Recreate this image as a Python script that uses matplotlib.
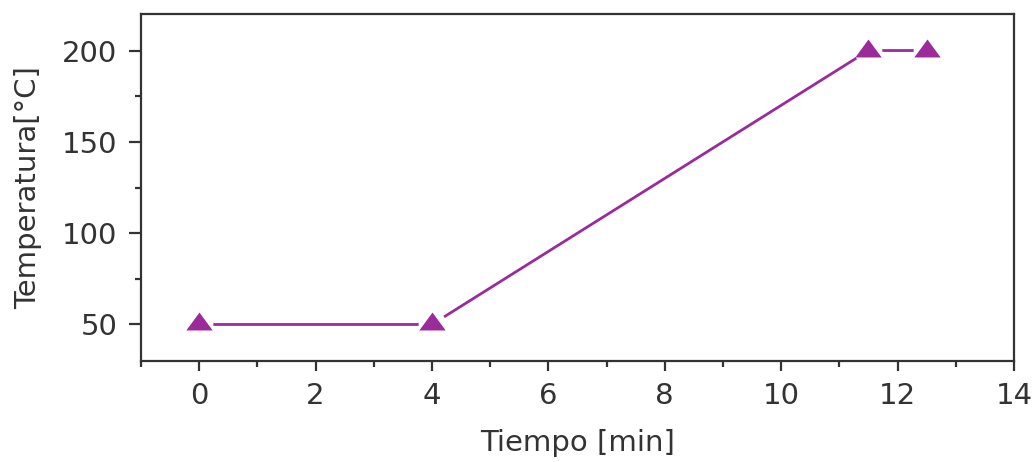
import numpy as np
import matplotlib
matplotlib.use("Agg")
import matplotlib.pyplot as plt
from matplotlib.path import Path
from matplotlib.ticker import MultipleLocator

# Temperature program
tiempo = [0, 4, 11.5, 12.5]
temperatura = [50, 50, 200, 200]

x_ticks = [0, 2, 4, 6, 8, 10, 12, 14]
y_ticks = [50, 100, 150, 200]

purple = "#9b2b9b"
dark = "#333333"

plt.rcParams['font.family'] = ['DejaVu Sans']

# flattened triangle, anchored at its centroid
h = 1.36
tri = Path([(0, 2 * h / 3), (-1, -h / 3), (1, -h / 3), (0, 2 * h / 3)],
           [Path.MOVETO, Path.LINETO, Path.LINETO, Path.CLOSEPOLY])

fig = plt.figure(figsize=(10.35, 4.62), dpi=100)
ax = fig.add_axes([0.1362, 0.2186, 0.8435, 0.7511])

ax.plot(tiempo, temperatura, color=purple, lw=2.0, zorder=1, solid_capstyle="butt")
# blank halo so the line stops short of each symbol
ax.plot(tiempo, temperatura, ls="none", marker="o", ms=20, mfc="white", mec="none", zorder=2)
ax.plot(tiempo, temperatura, ls="none", marker=tri, ms=19, mfc=purple, mec="none", zorder=3)

ax.set_xlim(-1, 14)
ax.set_ylim(30, 220)
ax.set_xticks(x_ticks)
ax.set_yticks(y_ticks)
ax.xaxis.set_minor_locator(MultipleLocator(1))
ax.yaxis.set_minor_locator(MultipleLocator(25))

for s in ax.spines.values():
    s.set_color(dark)
    s.set_linewidth(1.6)

ax.tick_params(axis="both", which="both", direction="out", color=dark, width=1.6,
               labelcolor=dark, labelsize=21, top=False, right=False)
ax.tick_params(axis="x", which="major", length=7, pad=8)
ax.tick_params(axis="y", which="major", length=9, pad=8)
ax.tick_params(axis="both", which="minor", length=4.5)

ax.set_xlabel("Tiempo [min]", fontsize=21, color=dark, labelpad=14)
ax.set_ylabel("Temperatura[°C]", fontsize=21, color=dark, labelpad=14)

fig.savefig("out.png", dpi=100)
